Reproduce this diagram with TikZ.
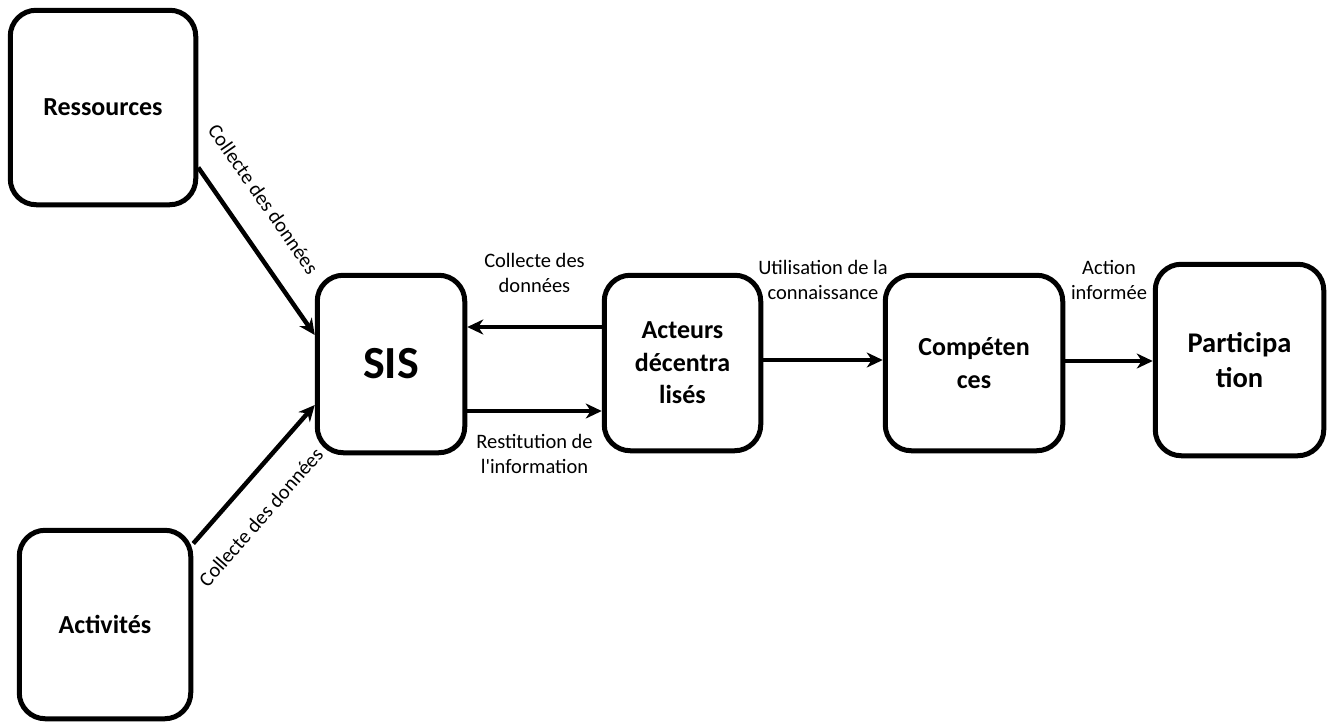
\documentclass[tikz,border=0pt]{standalone}
\usepackage{fontspec}
\setmainfont{Carlito}
\usetikzlibrary{arrows.meta}

\tikzset{
  bloc/.style={draw=black, line width=5pt, rounded corners=26pt, fill=white, align=center, inner sep=0pt, font=\bfseries\fontsize{26}{32.5}\selectfont},
  fleche/.style={line width=4.5pt, -{Stealth[length=16pt,width=15pt,inset=5pt]}},
  etiq/.style={inner sep=0pt, align=center, font=\fontsize{20.5}{25}\selectfont},
}

\begin{document}
\begin{tikzpicture}[x=1pt,y=-1pt]
\fill[white] (0,0) rectangle (1328,724);
\useasboundingbox (0,0) rectangle (1328,724);
% Drawing boxes
\node[bloc, minimum width=185.5pt, minimum height=194.5pt] (ressources) at (103.0,107.5) {Ressources};
\node[bloc, minimum width=171.5pt, minimum height=188.5pt] (activites) at (105.0,624.5) {Activités};
\node[bloc, minimum width=147.5pt, minimum height=177.5pt, font=\bfseries\fontsize{46}{50}\selectfont] (sis) at (391.0,364.0) {SIS};
\node[bloc, minimum width=156.5pt, minimum height=175.5pt] (acteurs) at (682.5,363.0) {Acteurs\\décentra\\lisés};
\node[bloc, minimum width=177.5pt, minimum height=175.5pt] (competences) at (974.0,363.0) {Compéten\\ces};
\node[bloc, minimum width=168.5pt, minimum height=191.5pt, font=\bfseries\fontsize{28.5}{35}\selectfont] (participation) at (1239.5,360.0) {Participa\\tion};
% Done with boxes; drawing arrows
% Ressources -> SIS
\draw[fleche] ([yshift=-60pt]ressources.east) -- ([yshift=29pt]sis.west)
  node[etiq, pos=0.31, sloped, above=26pt] {Collecte des données};
% Activites -> SIS
\draw[fleche] ([yshift=81pt]activites.east) -- ([yshift=-41pt]sis.west)
  node[etiq, pos=0.35, sloped, below=24pt] {Collecte des données};
% Acteurs -> SIS
\draw[fleche] ([yshift=36pt]acteurs.west) -- ([yshift=36pt]acteurs.west -| sis.east)
  node[etiq, midway, above=32pt] {Collecte des\\données};
% SIS -> Acteurs
\draw[fleche] ([yshift=-48pt]acteurs.west -| sis.east) -- ([yshift=-48pt]acteurs.west)
  node[etiq, midway, below=21pt] {Restitution de\\l\textquotesingle information};
% Acteurs -> Competences
\draw[fleche] ([yshift=3pt]acteurs.east) -- ([yshift=3pt]acteurs.east -| competences.west)
  node[etiq, midway, above=58pt] {Utilisation de la\\connaissance};
% Competences -> Participation
\draw[fleche] ([yshift=2pt]competences.east) -- ([yshift=2pt]competences.east -| participation.west)
  node[etiq, midway, above=59pt] {Action\\informée};
% Done with arrows
\end{tikzpicture}
\end{document}
